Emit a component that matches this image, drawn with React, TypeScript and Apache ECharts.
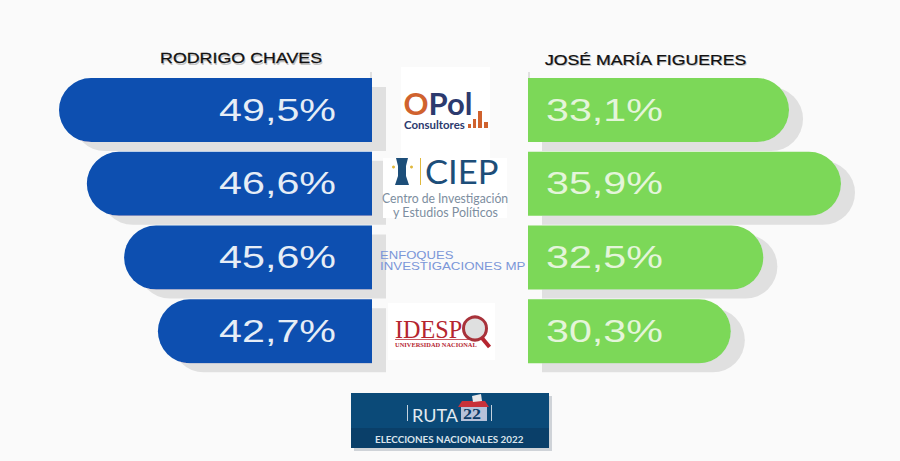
import React, { useEffect, useRef } from "react";
import * as echarts from "echarts";

const pollsters = ["OPol Consultores", "CIEP", "Enfoques Investigaciones MP", "IDESPO"];
const candidateLeft = "RODRIGO CHAVES";
const candidateRight = "JOSÉ MARÍA FIGUERES";
// The printed percentages.
const chavesValues = [49.5, 46.6, 45.6, 42.7];
const figueresValues = [33.1, 35.9, 32.5, 30.3];
// The reference's bars are not drawn to the scale of the printed percentages:
// these are the lengths, as a share of the longest bar.
const chavesBarShare = [100, 91.1, 79.2, 68.4];
const figueresBarShare = [83.4, 100, 75.2, 64.8];

const BLUE = "#0a4fb0";
const GREEN = "#7cd858";
const SANS = "'Liberation Sans', Arial, sans-serif";
const fmt = (v: number) => v.toFixed(1).replace(".", ",") + "%";

function T(text: string, x: number, y: number, size: number, fill: string, o: any = {}) {
  const { scaleX = 1, family = SANS, weight = "normal", stroke, lineWidth, z = 10 } = o;
  return {
    type: "text", x, y, scaleX, z, silent: true,
    style: {
      text, x: 0, y: 0, fill, fontSize: size, fontFamily: family, fontWeight: weight,
      align: o.align || "left", verticalAlign: "middle",
      ...(stroke ? { stroke, lineWidth } : {}),
    },
  };
}
const R = (x: number, y: number, w: number, h: number, fill: string, z = 5) => ({
  type: "rect", z, silent: true, shape: { x, y, width: w, height: h }, style: { fill },
});

function labelSeries(xAxisIndex: number, values: number[], offset: number, align: string, fill: string) {
  return {
    type: "custom", xAxisIndex, yAxisIndex: xAxisIndex, z: 4, silent: true, clip: false,
    data: values.map((v, i) => [0, i, v]),
    encode: { x: 0, y: 1 },
    renderItem: (_: any, api: any) => {
      const p = api.coord([0, api.value(1)]);
      return {
        type: "text", x: p[0] + offset, y: p[1], scaleX: 1.33,
        style: {
          text: fmt(api.value(2)), x: 0, y: 0, fill, fontSize: 31, fontFamily: SANS,
          align, verticalAlign: "middle",
        },
      };
    },
  };
}

export default function App() {
  const ref = useRef<HTMLDivElement>(null);
  useEffect(() => {
    const chart = echarts.init(ref.current!, undefined, { renderer: "svg" });
    const shadow = { shadowColor: "#e0e0e0", shadowBlur: 0, shadowOffsetX: 14, shadowOffsetY: 9 };
    const ax = { type: "value", min: 0, max: 100, show: false };
    const cat = { type: "category", data: pollsters, inverse: true, show: false };
    chart.setOption({
      animation: false,
      backgroundColor: "#fafafa",
      grid: [
        { left: 59, width: 313, top: 73.2, height: 295 },
        { left: 528, width: 313, top: 73.2, height: 295 },
      ],
      xAxis: [{ ...ax, gridIndex: 0, inverse: true }, { ...ax, gridIndex: 1 }],
      yAxis: [{ ...cat, gridIndex: 0 }, { ...cat, gridIndex: 1 }],
      series: [
        {
          type: "bar", xAxisIndex: 0, yAxisIndex: 0, barWidth: 64, silent: true,
          data: chavesBarShare, itemStyle: { color: BLUE, borderRadius: [32, 0, 0, 32], ...shadow },
        },
        {
          type: "bar", xAxisIndex: 1, yAxisIndex: 1, barWidth: 64, silent: true,
          data: figueresBarShare, itemStyle: { color: GREEN, borderRadius: [0, 32, 32, 0], ...shadow },
        },
        labelSeries(0, chavesValues, -36, "right", "#e6edf6"),
        labelSeries(1, figueresValues, 18, "left", "#e4f5da"),
      ],
      graphic: { elements: [
        // Candidate names
        T(candidateLeft, 161, 60, 14.5, "#c4c4c4", { scaleX: 1.23 }),
        T(candidateLeft, 160, 58, 14.5, "#111", { scaleX: 1.23, stroke: "#111", lineWidth: 0.25, z: 11 }),
        T(candidateRight, 546, 61, 14.5, "#c4c4c4", { scaleX: 1.22 }),
        T(candidateRight, 545, 59.5, 14.5, "#111", { scaleX: 1.22, stroke: "#111", lineWidth: 0.25, z: 11 }),
        R(370, 72, 2, 6, "#e0e0e0"), R(528, 72, 2, 6, "#e0e0e0"),

        // OPol
        R(401, 67, 89, 91, "#ffffff"),
        T("O", 403.5, 103, 31, "#d0622e", { family: "Lato", weight: "bold" }),
        T("Pol", 428.5, 103, 31, "#2c3a6e", { family: "Lato", weight: "bold" }),
        T("Consultores", 404, 125, 11, "#2c3a6e", { family: "Lato", weight: "bold", scaleX: 1.04 }),
        R(468, 124, 3, 4, "#d0622e", 10), R(473, 119, 3, 9, "#d0622e", 10),
        R(478, 111, 4, 17, "#d0622e", 10), R(484, 122, 4, 6, "#d0622e", 10),

        // CIEP
        R(383, 158, 124, 60, "#ffffff", 6),
        { type: "polygon", z: 10, silent: true, shape: { points: [[396,158],[408,158],[406,166],[406,176],[409,185],[395,185],[398,176],[398,166]] }, style: { fill: "#1d4e79" } },
        { type: "circle", z: 10, silent: true, shape: { cx: 393.5, cy: 167, r: 1.5 }, style: { fill: "#e0b83c" } },
        { type: "circle", z: 10, silent: true, shape: { cx: 411.5, cy: 167, r: 1.5 }, style: { fill: "#e0b83c" } },
        R(420, 158, 1, 27, "#e0b83c", 10),
        T("CIEP", 425, 172, 32, "#1d4e79", { family: "Lato", scaleX: 1.08 }),
        T("Centro de Investigación", 382, 197.5, 14, "#7d8ea0", { family: "Lato", scaleX: 0.87 }),
        T("y Estudios Políticos", 393, 212, 14, "#7d8ea0", { family: "Lato", scaleX: 0.89 }),

        // Enfoques
        T("ENFOQUES", 380, 255.5, 11, "#7b96d8", { scaleX: 1.19 }),
        T("INVESTIGACIONES MP", 380, 266, 11, "#7b96d8", { scaleX: 1.21 }),

        // IDESPO
        R(388, 303, 107, 57, "#ffffff"),
        T("IDESP", 395, 329, 26, "#b5252f", { family: "Liberation Serif", scaleX: 0.93 }),
        R(395, 339, 82, 0.7, "#b5252f", 10),
        T("UNIVERSIDAD NACIONAL", 395, 344.5, 6, "#b5252f", { family: "Liberation Serif", weight: "bold", scaleX: 1.07 }),
        { type: "circle", z: 11, silent: true, shape: { cx: 475, cy: 328.5, r: 11.5 }, style: { fill: "#dfe0e0", stroke: "#a8323a", lineWidth: 3 } },
        { type: "line", z: 11, silent: true, shape: { x1: 482, y1: 338, x2: 489.5, y2: 347 }, style: { stroke: "#b5252f", lineWidth: 4 } },

        // Ruta 22
        R(354, 396, 198, 55, "#cfd3d8", 5),
        R(351, 393, 198, 55, "#0b4a78", 6),
        R(351, 428, 198, 20, "#0a3f69", 7),
        R(407, 405, 1, 16, "#c4d2de", 10), R(491, 405, 1, 16, "#c4d2de", 10),
        T("RUTA", 412, 415, 18, "#e3eaf0", { family: "Lato", scaleX: 1.0 }),
        R(461, 407, 26, 14, "#b6c1d9", 9),
        T("22", 463, 414.5, 15, "#0b3a66", { family: "Liberation Serif", weight: "bold", scaleX: 1.2 }),
        { type: "polygon", z: 11, silent: true, shape: { points: [[472,396],[481,394],[482,401],[473,402]] }, style: { fill: "#e8e8ea" } },
        { type: "polygon", z: 10, silent: true, shape: { points: [[458,407],[462,401],[485,401],[489,407]] }, style: { fill: "#c8313a" } },
        T("ELECCIONES NACIONALES 2022", 375, 439.5, 8.5, "#dbe4ec", { family: "Lato", weight: "bold", scaleX: 1.16 }),
      ] },
    });
    return () => chart.dispose();
  }, []);
  return <div ref={ref} style={{ position: "fixed", left: 0, top: 0, width: 900, height: 461 }} />;
}
